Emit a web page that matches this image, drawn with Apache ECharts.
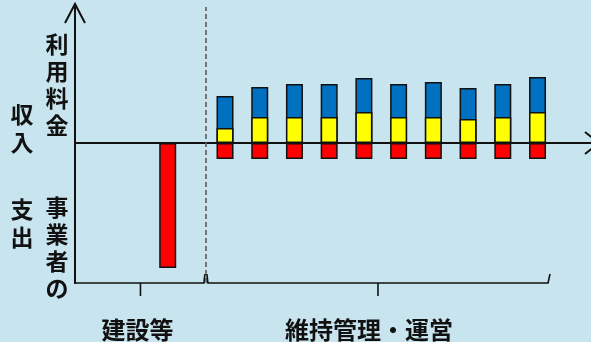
<!DOCTYPE html>
<html>
<head>
<meta charset="utf-8">
<script src="https://cdn.jsdelivr.net/npm/echarts@6/dist/echarts.min.js"></script>
<style>
  html, body { margin: 0; padding: 0; background: #c8e4ee; }
  #chart { width: 591px; height: 342px; }
</style>
</head>
<body>
<div id="chart"></div>
<script>
// Period positions along the time axis (construction period, then operating years 1..10)
const constructionPos = -0.65;
const operatingYears = [1, 2, 3, 4, 5, 6, 7, 8, 9, 10];

// Amounts (relative units)
const constructionCost = -125;                                   // 事業者の支出（建設等）
const operatingCost    = [-16, -16, -16, -16, -16, -16, -16, -16, -16, -16]; // 維持管理・運営費
const incomeLower      = [15, 26, 26, 26, 31, 26, 26, 24, 26, 31];           // 収入（下段・黄）
const incomeUpper      = [32, 30, 33, 33, 34, 33, 35, 31, 33, 35];           // 利用料金収入（上段・青）

// Phase brackets below the chart
const phaseLabels = ['建設等', '維持管理・運営'];
const phaseStart  = [-3.32, 0.45];
const phaseEnd    = [0.45, 10.36];
const phaseLabelShift = [-3, -9];

// Vertical axis captions
const captionOuter = [['収', '入'], ['支', '出']];
const captionInner = [['利', '用', '料', '金'], ['事', '業', '者', 'の']];

const X_MIN = -3.32, X_MAX = 11.54;
const Y_MIN = -140, Y_MAX = 136;

const FONT = '"Noto Sans CJK JP", "Noto Sans CJK SC", sans-serif';

const chart = echarts.init(document.getElementById('chart'), null, { renderer: 'canvas' });

const barStyle = (color) => ({ color: color, borderColor: '#111', borderWidth: 1.5 });

// costs hang below the axis; income is piled up: yellow on the axis, blue on top of it
const costData   = [[constructionPos, constructionCost]].concat(
  operatingYears.map((x, i) => [x, operatingCost[i]]));
const lowerData  = operatingYears.map((x, i) => [x, incomeLower[i]]);
const totalData  = operatingYears.map((x, i) => [x, incomeLower[i] + incomeUpper[i]]);

const barCommon = { type: 'bar', barWidth: 17, barGap: '-100%' };

chart.setOption({
  backgroundColor: '#c8e4ee',
  animation: false,
  grid: { left: 75, right: 0, top: 7, bottom: 59 },
  xAxis: {
    type: 'value', min: X_MIN, max: X_MAX,
    axisLine: { show: true, onZero: true, lineStyle: { color: '#111', width: 2 } },
    axisTick: { show: false }, axisLabel: { show: false }, splitLine: { show: false }
  },
  yAxis: {
    type: 'value', min: Y_MIN, max: Y_MAX,
    axisLine: { show: true, onZero: false, lineStyle: { color: '#111', width: 2 } },
    axisTick: { show: false }, axisLabel: { show: false }, splitLine: { show: false }
  },
  series: [
    Object.assign({}, barCommon, { name: '利用料金収入', data: totalData, itemStyle: barStyle('#0070c0'), z: 2 }),
    Object.assign({}, barCommon, { name: '収入', data: lowerData, itemStyle: barStyle('#ffff00'), z: 3 }),
    Object.assign({}, barCommon, {
      name: '支出', data: costData, itemStyle: barStyle('#ff0000'), z: 3,
      markLine: {
        silent: true, symbol: 'none', label: { show: false },
        lineStyle: { color: '#555', type: [5, 3], width: 1.5 },
        data: [{ xAxis: phaseStart[1] }]
      }
    })
  ]
});

// Decorations: arrowheads, phase brackets and captions
function px(x, y) { return chart.convertToPixel({ gridIndex: 0 }, [x, y]); }

const g = [];
const [axL, axTop] = px(X_MIN, Y_MAX);
const [axR, axZero] = px(X_MAX, 0);
const [, axBot] = px(X_MIN, Y_MIN);

// open arrowheads on both axes
g.push({ type: 'polyline', shape: { points: [[axL - 10, axTop + 16], [axL, axTop - 3], [axL + 10, axTop + 16]] },
  style: { stroke: '#111', lineWidth: 2, fill: null }, z: 10 });
g.push({ type: 'polyline', shape: { points: [[axR - 6, axZero - 11], [axR + 8, axZero], [axR - 6, axZero + 11]] },
  style: { stroke: '#111', lineWidth: 2, fill: null }, z: 10 });

// brackets
phaseLabels.forEach((name, i) => {
  const x0 = px(phaseStart[i], 0)[0];
  const x1 = px(phaseEnd[i], 0)[0];
  const c = (x0 + x1) / 2;
  const yb = axBot;
  g.push({ type: 'polyline', shape: { points: [[x0 + (i === 0 ? 0 : 1), yb - 9], [x0 + (i === 0 ? 0 : 2), yb], [x1 - 2, yb], [x1 - (i === 0 ? 1 : 0), yb - 9]] },
    style: { stroke: '#111', lineWidth: 1.6, fill: null }, z: 10 });
  g.push({ type: 'line', shape: { x1: c, y1: yb, x2: c, y2: yb + 13 },
    style: { stroke: '#111', lineWidth: 1.6 }, z: 10 });
  g.push({ type: 'text', x: c + phaseLabelShift[i], y: 330,
    style: { text: name, font: 'bold 24px ' + FONT, fill: '#111', align: 'center', verticalAlign: 'middle' }, z: 10 });
});

// vertical captions
const outerStart = [114, 209];
const innerStart = [44, 207];
captionOuter.forEach((chars, k) => chars.forEach((ch, j) => {
  g.push({ type: 'text', x: 22, y: outerStart[k] + j * 28,
    style: { text: ch, font: 'bold 23px ' + FONT, fill: '#111', align: 'center', verticalAlign: 'middle' }, z: 10 });
}));
captionInner.forEach((chars, k) => chars.forEach((ch, j) => {
  g.push({ type: 'text', x: 57, y: innerStart[k] + j * 27,
    style: { text: ch, font: 'bold 23px ' + FONT, fill: '#111', align: 'center', verticalAlign: 'middle' }, z: 10 });
}));

chart.setOption({ graphic: g });
</script>
</body>
</html>
